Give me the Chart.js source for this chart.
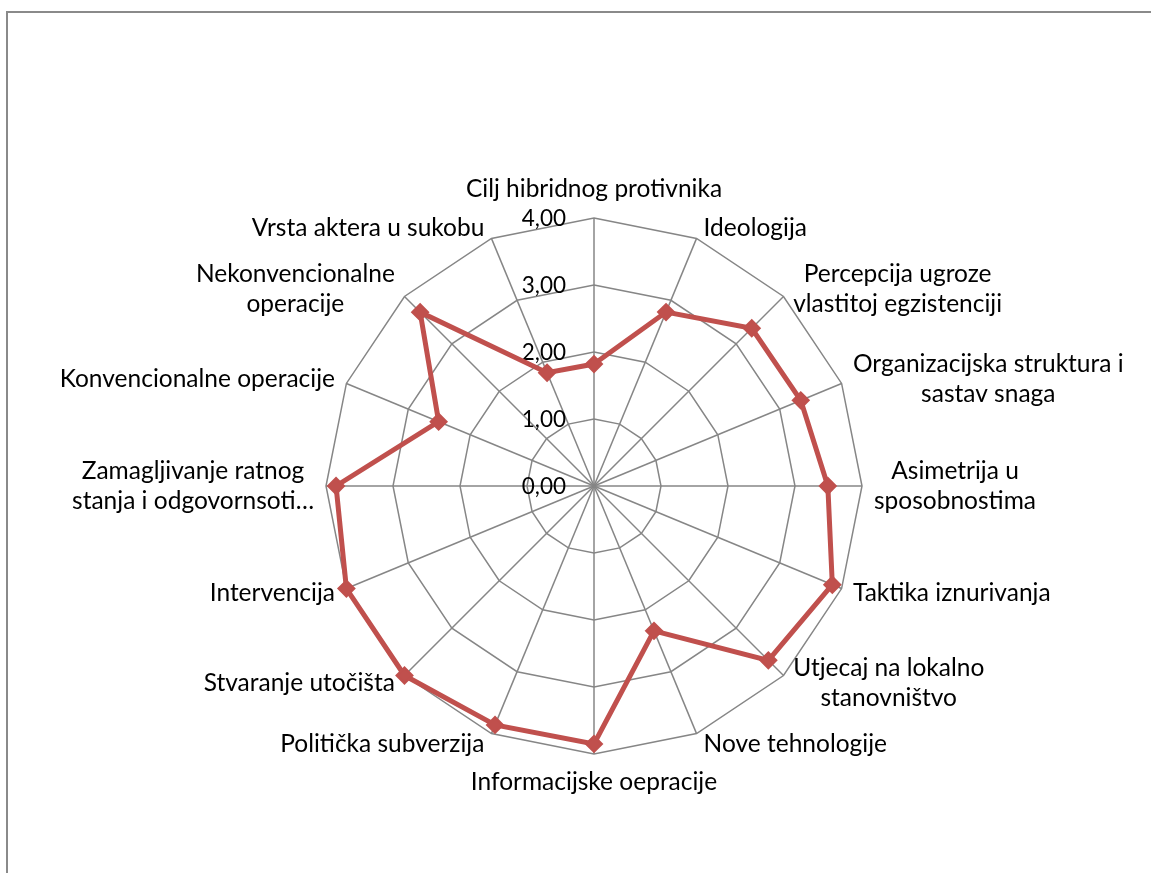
<!DOCTYPE html>
<html>
<head>
<meta charset="utf-8">
<script src="https://cdn.jsdelivr.net/npm/chart.js@4.4.1/dist/chart.umd.min.js"></script>
<style>
  html, body { margin: 0; padding: 0; background: #fff; }
  #frame { position: absolute; left: 6px; top: 11px; width: 1200px; height: 900px;
           border-left: 2px solid #8a8a8a; border-top: 2px solid #8a8a8a; }
  #wrap { position: absolute; left: 0; top: 0; width: 1151px; height: 873px; }
</style>
</head>
<body>
<div id="frame"></div>
<div id="wrap"><canvas id="radar"></canvas></div>
<script>
const categories = [
  'Cilj hibridnog protivnika',
  'Ideologija',
  ['Percepcija ugroze', 'vlastitoj egzistenciji'],
  ['Organizacijska struktura i', 'sastav snaga'],
  ['Asimetrija u', 'sposobnostima'],
  'Taktika iznurivanja',
  ['Utjecaj na lokalno', 'stanovništvo'],
  'Nove tehnologije',
  'Informacijske oepracije',
  'Politička subverzija',
  'Stvaranje utočišta',
  'Intervencija',
  ['Zamagljivanje ratnog', 'stanja i odgovornsoti…'],
  'Konvencionalne operacije',
  ['Nekonvencionalne', 'operacije'],
  'Vrsta aktera u sukobu'
];
const values = [1.82, 2.81, 3.33, 3.34, 3.49, 3.85, 3.68, 2.34, 3.85, 3.86, 4.00, 4.00, 3.85, 2.51, 3.67, 1.83];
const tickValues = [0, 1, 2, 3, 4];

const FONT = 'Lato, "Open Sans", sans-serif';
const LABEL_SIZE = 24.5;
const LINE_H = 30;

// tick labels sit left of the vertical axis, like Excel
const tickLabelPlugin = {
  id: 'tickLabels',
  beforeDatasetsDraw(chart) {
    const r = chart.scales.r;
    const ctx = chart.ctx;
    ctx.save();
    ctx.font = '22.5px ' + FONT;
    ctx.fillStyle = '#000';
    ctx.textAlign = 'right';
    ctx.textBaseline = 'middle';
    tickValues.forEach(v => {
      const d = r.getDistanceFromCenterForValue(v);
      ctx.fillText(v.toFixed(2).replace('.', ','), r.xCenter - 28, r.yCenter - d + 1);
    });
    ctx.restore();
  }
};

// category labels placed next to the outer ring, lines centred in their block
const pointLabelPlugin = {
  id: 'excelPointLabels',
  afterDraw(chart) {
    const r = chart.scales.r;
    const ctx = chart.ctx;
    const n = categories.length;
    ctx.save();
    ctx.font = LABEL_SIZE + 'px ' + FONT;
    ctx.fillStyle = '#000';
    ctx.textAlign = 'center';
    ctx.textBaseline = 'middle';
    categories.forEach((lab, i) => {
      const lines = Array.isArray(lab) ? lab : [lab];
      const a = i * 2 * Math.PI / n;
      const s = Math.sin(a), c = Math.cos(a);
      const p = r.getPointPosition(i, r.drawingArea);
      const blockW = Math.max(...lines.map(t => ctx.measureText(t).width));
      const blockH = lines.length * LINE_H;
      let cx, cy;
      if (Math.abs(s) < 0.01) {
        cx = p.x;
        cy = c > 0 ? p.y - 29 : p.y + 28;
      } else {
        const gap = 4 + 8 * Math.abs(s);
        cx = s > 0 ? p.x + gap + blockW / 2 : p.x - gap - blockW / 2;
        cy = p.y - c * 11;
      }
      lines.forEach((t, k) => {
        ctx.fillText(t, cx, cy - blockH / 2 + LINE_H * (k + 0.5));
      });
    });
    ctx.restore();
  }
};

new Chart(document.getElementById('radar'), {
  type: 'radar',
  data: {
    labels: categories,
    datasets: [{
      data: values,
      borderColor: '#c0504d',
      backgroundColor: 'rgba(0,0,0,0)',
      borderWidth: 5,
      fill: false,
      tension: 0,
      pointStyle: 'rectRot',
      pointRadius: 8,
      pointBorderWidth: 2,
      pointBackgroundColor: '#c0504d',
      pointBorderColor: '#c0504d'
    }]
  },
  options: {
    responsive: true,
    maintainAspectRatio: false,
    animation: false,
    layout: { padding: { left: 38, right: 0, top: 218, bottom: 119 } },
    plugins: { legend: { display: false }, tooltip: { enabled: false } },
    scales: {
      r: {
        min: 0,
        max: 4,
        ticks: { stepSize: 1, display: false },
        grid: { color: '#868686', lineWidth: 1.5 },
        angleLines: { color: '#868686', lineWidth: 1.5 },
        pointLabels: { display: false }
      }
    }
  },
  plugins: [tickLabelPlugin, pointLabelPlugin]
});
</script>
</body>
</html>
